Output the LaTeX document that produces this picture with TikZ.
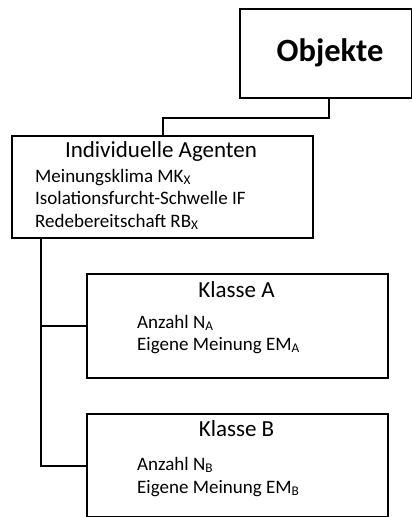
\documentclass[tikz,border=0pt]{standalone}
\usepackage{fontspec}
\setmainfont{Carlito}
\usepackage{tikz}
\usetikzlibrary{positioning}

\begin{document}
\begin{tikzpicture}[
				x=1pt, y=-1pt,
				box/.style={draw, line width=2pt, inner sep=0pt, anchor=north west},
				conn/.style={draw, line width=2pt},
				headline/.style={font=\fontsize{23}{26}\selectfont, anchor=base, inner sep=0pt},
				item/.style={font=\fontsize{19}{22}\selectfont, anchor=base west, inner sep=0pt}
				]
				\useasboundingbox (0,0) rectangle (412,517);
				
				% Boxes
				\node[box, minimum width=172pt, minimum height=89pt] (obj) at (239,8) {};
				\node[box, minimum width=301pt, minimum height=102pt] (ind) at (11,135) {};
				\node[box, minimum width=301pt, minimum height=104pt] (kA) at (86,273) {};
				\node[box, minimum width=301pt, minimum height=103pt] (kB) at (86,413) {};
				
				% Texts
				\node[anchor=base, inner sep=0pt, font=\fontsize{32.5}{36}\selectfont\bfseries] (objT) at (330,61) {Objekte};
				\node[headline] (indT) at (161,157) {Individuelle Agenten};
				\node[item] (mk) at (35,182) {Meinungsklima MK\textsubscript{X}};
				\node[item] (if) at (35,204) {Isolationsfurcht-Schwelle IF};
				\node[item] (rb) at (35,227) {Redebereitschaft RB\textsubscript{X}};
				\node[headline] (kAT) at (236.5,297) {Klasse A};
				\node[item] (nA) at (137,328) {Anzahl N\textsubscript{A}};
				\node[item] (emA) at (137,350) {Eigene Meinung EM\textsubscript{A}};
				\node[headline] (kBT) at (236.5,436) {Klasse B};
				\node[item] (nB) at (137,470) {Anzahl N\textsubscript{B}};
				\node[item] (emB) at (137,493) {Eigene Meinung EM\textsubscript{B}};
				
				% Connectors
				\draw[conn] ([xshift=3pt]obj.south) -- ++(0,19) -| (ind.north);
				\coordinate (trunk) at ([xshift=30pt]ind.south west);
				\draw[conn] (trunk) |- (kB.west);
				\draw[conn] (kA.west) -- (kA.west -| trunk);
			\end{tikzpicture}
\end{document}
